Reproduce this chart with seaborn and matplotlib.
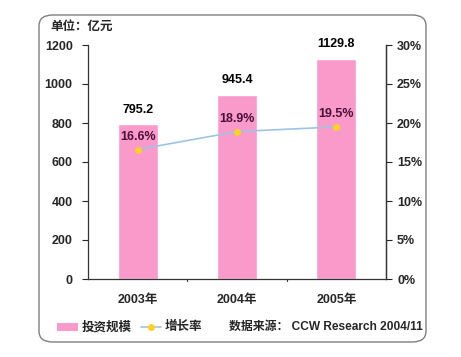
import matplotlib
matplotlib.use("Agg")
import matplotlib.pyplot as plt
import seaborn as sns
from matplotlib.patches import FancyBboxPatch, Rectangle
from matplotlib.lines import Line2D

# datos
years = ["2003年", "2004年", "2005年"]
invest = [795.2, 945.4, 1129.8]
growth = [16.6, 18.9, 19.5]

BAR_COLOR = "#fa9acb"
LINE_COLOR = "#9ec4e4"
MARKER_COLOR = "#ffd21f"
PCT_COLOR = "#4a1038"
FS = 9

sns.set_style("white")
plt.rcParams["font.family"] = ["Liberation Sans", "Noto Sans CJK SC"]
plt.rcParams["font.weight"] = "bold"

fig = plt.figure(figsize=(4.61, 3.57), dpi=100)
ax = fig.add_axes([88 / 461, 1 - 279 / 357, 298 / 461, 234 / 357])

# marco redondeado
frame = FancyBboxPatch((39 / 461, 15 / 357), 387 / 461, 327 / 357,
                       boxstyle="round,pad=0,rounding_size=0.03",
                       transform=fig.transFigure, fill=False,
                       edgecolor="#7f7f7f", linewidth=1.0)
fig.patches.append(frame)

sns.barplot(x=years, y=invest, ax=ax, color=BAR_COLOR, width=0.4,
            saturation=1)
ax.set_ylim(0, 1200)
ax.set_xlim(-0.5, 2.5)
ax.set_yticks(range(0, 1201, 200))
ax.tick_params(axis="y", labelsize=FS, length=4, width=0.8, pad=7,
               direction="out", left=True)
ax.set_xticks([0, 1, 2])
ax.set_xticklabels(years, fontsize=FS, fontweight="bold")
ax.tick_params(axis="x", length=0, pad=11)
for x in [0.5, 1.5]:
    ax.plot([x, x], [0, -12], color="#333333", linewidth=0.8,
            clip_on=False)
for side in ["left", "right", "bottom"]:
    ax.spines[side].set_color("#333333")
    ax.spines[side].set_linewidth(0.9)
ax.spines["top"].set_visible(False)

for i, v in enumerate(invest):
    ax.text(i, v + 42, f"{v:.1f}", ha="center", va="bottom",
            fontsize=FS, fontweight="bold", color="black")

ax2 = ax.twinx()
sns.pointplot(x=years, y=growth, ax=ax2, color=LINE_COLOR,
              linewidth=1.2, markersize=4, errorbar=None)
for ln in ax2.lines:
    ln.set_markerfacecolor(MARKER_COLOR)
    ln.set_markeredgecolor(MARKER_COLOR)
ax2.set_ylim(0, 30)
ax2.set_xlim(-0.5, 2.5)
ax2.set_yticks(range(0, 31, 5))
ax2.set_yticklabels([f"{t}%" for t in range(0, 31, 5)])
ax2.tick_params(axis="y", labelsize=FS, length=4, width=0.8, pad=4,
                direction="out", right=True)
ax2.set_ylabel("")
for side in ["left", "top", "bottom"]:
    ax2.spines[side].set_visible(False)
ax2.spines["right"].set_color("#333333")
ax2.spines["right"].set_linewidth(0.9)

for i, v in enumerate(growth):
    ax2.text(i, v + 0.9, f"{v:.1f}%", ha="center", va="bottom",
             fontsize=FS, fontweight="bold", color=PCT_COLOR)

fig.text(50 / 461, 1 - 27 / 357, "单位：亿元", fontsize=FS,
         fontweight="bold", va="center", ha="left")

# leyenda
ly = 1 - 327 / 357
fig.patches.append(Rectangle((57 / 461, ly - 0.012), 21 / 461, 0.024,
                             transform=fig.transFigure,
                             facecolor=BAR_COLOR, edgecolor="none"))
fig.text(82 / 461, ly, "投资规模", fontsize=FS, fontweight="bold",
         va="center", ha="left")
fig.lines.append(Line2D([141 / 461, 161 / 461], [ly, ly],
                        transform=fig.transFigure, color=LINE_COLOR,
                        linewidth=1.2))
fig.lines.append(Line2D([151 / 461], [ly], transform=fig.transFigure,
                        marker="o", markersize=4, color=MARKER_COLOR))
fig.text(165 / 461, ly, "增长率", fontsize=FS, fontweight="bold",
         va="center", ha="left")
fig.text(229 / 461, ly, "数据来源： CCW Research 2004/11", fontsize=8.6,
         fontweight="bold", va="center", ha="left")

fig.savefig("out.png", dpi=100)
